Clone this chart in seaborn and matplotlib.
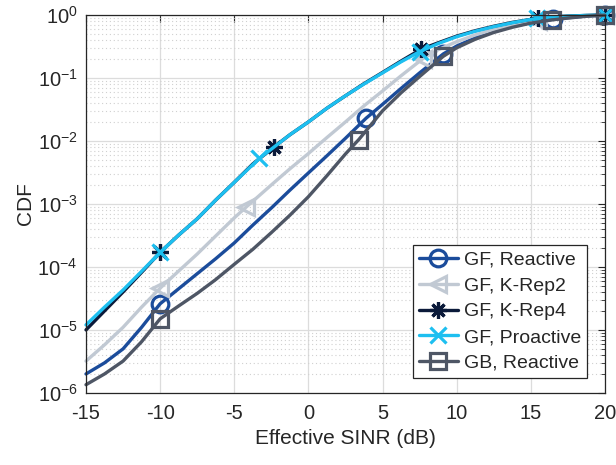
import numpy as np
import pandas as pd
import matplotlib
matplotlib.use("Agg")
import matplotlib.pyplot as plt
import seaborn as sns
from matplotlib.ticker import LogLocator, NullFormatter, MultipleLocator

# Curves (x in dB, y = CDF)
reactive_x = [-15, -13.75, -12.5, -11.25, -10, -8.75, -7.5, -6.25, -5, -3.75, -2.5, -1.25, 0, 1.25,
              2.5, 3.9, 5, 6.25, 7.5, 9.1, 10, 11.25, 12.5, 13.75, 15, 16.5, 17.5, 18.75, 20]
reactive_y = [2.0e-6, 3.0e-6, 5.0e-6, 1.1e-5, 2.6e-5, 4.5e-5, 7.8e-5, 1.35e-4, 2.4e-4, 4.6e-4,
              8.6e-4, 1.65e-3, 3.1e-3, 5.8e-3, 1.1e-2, 2.3e-2, 3.8e-2, 6.8e-2, 1.2e-1, 2.4e-1,
              3.2e-1, 4.3e-1, 5.5e-1, 6.55e-1, 7.55e-1, 8.5e-1, 9.0e-1, 9.6e-1, 0.995]
reactive_marks = [4, 15, 19, 25, 28]

krep2_x = [-15, -13.75, -12.5, -11.25, -10, -8.75, -7.5, -6.25, -5, -4.2, -3.75, -2.5, -1.25, 0,
           1.25, 2.5, 3.75, 5, 6.25, 7.7, 8.75, 10, 11.25, 12.5, 13.75, 15.5, 16.25, 17.5, 18.75, 20]
krep2_y = [3.2e-6, 5.8e-6, 1.1e-5, 2.3e-5, 4.6e-5, 8.6e-5, 1.6e-4, 3.1e-4, 6.0e-4, 8.9e-4,
           1.1e-3, 2.0e-3, 3.6e-3, 6.3e-3, 1.13e-2, 2.0e-2, 3.6e-2, 6.2e-2, 1.08e-1, 2.0e-1,
           2.8e-1, 3.75e-1, 4.8e-1, 5.85e-1, 6.85e-1, 8.0e-1, 8.6e-1, 9.25e-1, 9.7e-1, 0.995]
krep2_marks = [4, 9, 19, 25, 29]

krep4_x = [-15, -13.75, -12.5, -11.25, -10, -8.75, -7.5, -6.25, -5, -3.75, -2.3, -1.25, 0, 1.25,
           2.5, 3.75, 5, 6.25, 7.6, 8.75, 10, 11.25, 12.5, 13.75, 15.5, 16.25, 17.5, 18.75, 20]
krep4_y = [1.0e-5, 2.0e-5, 4.0e-5, 8.2e-5, 1.7e-4, 3.2e-4, 5.8e-4, 1.15e-3, 2.2e-3, 4.3e-3,
           8.1e-3, 1.25e-2, 2.0e-2, 3.3e-2, 5.2e-2, 8.1e-2, 1.22e-1, 1.85e-1, 2.85e-1, 3.6e-1,
           4.6e-1, 5.6e-1, 6.6e-1, 7.6e-1, 8.85e-1, 9.2e-1, 9.55e-1, 9.8e-1, 0.995]
krep4_marks = [4, 10, 18, 24, 28]

proactive_x = [-15, -13.75, -12.5, -11.25, -10, -8.75, -7.5, -6.25, -5, -3.3, -2.5, -1.25, 0, 1.25,
               2.5, 3.75, 5, 6.25, 7.5, 8.75, 10, 11.25, 12.5, 13.75, 15.4, 16.25, 17.5, 18.75, 20]
proactive_y = [1.2e-5, 2.3e-5, 4.3e-5, 8.5e-5, 1.7e-4, 3.2e-4, 5.8e-4, 1.15e-3, 2.2e-3, 5.3e-3,
               7.4e-3, 1.25e-2, 2.0e-2, 3.3e-2, 5.2e-2, 8.0e-2, 1.2e-1, 1.8e-1, 2.6e-1, 3.5e-1,
               4.5e-1, 5.5e-1, 6.5e-1, 7.5e-1, 8.8e-1, 9.2e-1, 9.55e-1, 9.8e-1, 0.995]
proactive_marks = [4, 9, 18, 24, 28]

gb_x = [-15, -13.75, -12.5, -11.25, -10, -8.75, -7.5, -6.25, -5, -3.75, -2.5, -1.25, 0, 1.25,
        2.5, 3.4, 5, 6.25, 7.5, 9.1, 10, 11.25, 12.5, 13.75, 15, 16.4, 17.5, 18.75, 20]
gb_y = [1.35e-6, 2.0e-6, 3.2e-6, 6.5e-6, 1.5e-5, 2.4e-5, 3.8e-5, 6.3e-5, 1.1e-4, 1.9e-4,
        3.5e-4, 6.6e-4, 1.3e-3, 2.8e-3, 6.2e-3, 1.05e-2, 3.0e-2, 5.8e-2, 1.05e-1, 2.2e-1,
        3.0e-1, 4.1e-1, 5.25e-1, 6.35e-1, 7.4e-1, 8.3e-1, 8.9e-1, 9.5e-1, 0.99]
gb_marks = [4, 15, 19, 25, 28]

series = [
    ("GF, Reactive", reactive_x, reactive_y, reactive_marks, "#1b4c9b", "o"),
    ("GF, K-Rep2", krep2_x, krep2_y, krep2_marks, "#c1c9d3", "<"),
    ("GF, K-Rep4", krep4_x, krep4_y, krep4_marks, "#0b1a3a", (8, 2, 0)),
    ("GF, Proactive", proactive_x, proactive_y, proactive_marks, "#1dbff0", "x"),
    ("GB, Reactive", gb_x, gb_y, gb_marks, "#4e5665", "s"),
]

sns.set_style("white")
plt.rcParams["font.family"] = ["Liberation Sans", "DejaVu Sans"]
plt.rcParams["mathtext.default"] = "regular"
plt.rcParams["axes.unicode_minus"] = False

fig = plt.figure(figsize=(6.16, 4.65), dpi=100)
ax = fig.add_axes([0.1396, 0.155, 0.8424, 0.813])

for name, xs, ys, marks, color, mk in series:
    df = pd.DataFrame({"x": xs, "y": ys})
    sns.lineplot(data=df, x="x", y="y", ax=ax, color=color, lw=2.4,
                 marker=mk, markevery=marks, markersize=12,
                 markerfacecolor="none", markeredgecolor=color, markeredgewidth=2.3,
                 estimator=None, sort=False, label=name, clip_on=False)

ax.set_yscale("log")
ax.set_xlim(-15, 20)
ax.set_ylim(1e-6, 1)
ax.xaxis.set_major_locator(MultipleLocator(5))
ax.yaxis.set_major_locator(LogLocator(base=10, numticks=10))
ax.yaxis.set_minor_locator(LogLocator(base=10, subs=np.arange(2, 10), numticks=20))
ax.yaxis.set_minor_formatter(NullFormatter())

ax.grid(True, which="major", color="#dcdcdc", lw=0.9, ls="-")
ax.grid(True, which="minor", axis="y", color="#d0d0d0", lw=0.8, ls=(0, (1, 2.5)))
ax.set_axisbelow(True)

for sp in ax.spines.values():
    sp.set_color("#262626")
    sp.set_linewidth(0.9)
ax.tick_params(which="both", direction="in", top=True, right=True,
               colors="#262626", labelsize=14.5, labelcolor="#262626")
ax.tick_params(which="major", length=5)
ax.tick_params(which="minor", length=3)
ax.tick_params(axis="x", pad=8)
ax.tick_params(axis="y", pad=6)

ax.set_xlabel("Effective SINR (dB)", fontsize=15, color="#262626", labelpad=4)
ax.set_ylabel("CDF", fontsize=15, color="#262626", labelpad=2)

leg = ax.legend(loc="lower right", bbox_to_anchor=(0.965, 0.04), fontsize=14,
                frameon=True, fancybox=False, framealpha=1, edgecolor="#262626",
                handlelength=2.0, handletextpad=0.3, labelspacing=0.42,
                borderpad=0.3, borderaxespad=0)
leg.get_frame().set_linewidth(0.9)

fig.savefig("out.png", dpi=100)
